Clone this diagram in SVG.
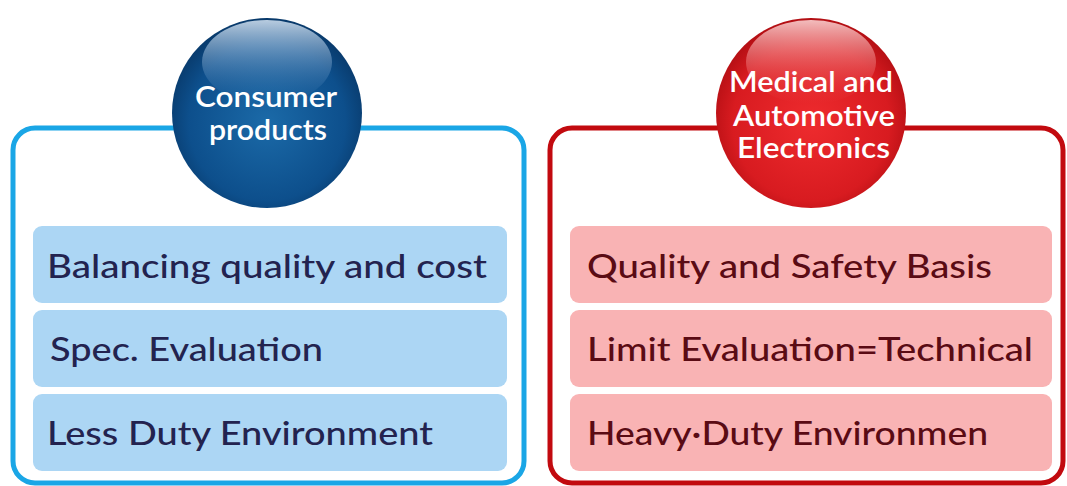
<svg xmlns="http://www.w3.org/2000/svg" width="1067" height="486" viewBox="0 0 1067 486">
<style>
.item{font-family:"Lato","Liberation Sans",sans-serif;font-size:32px;font-weight:500}
.blueT{fill:#23234f}
.redT{fill:#5a0b14}
.ball{font-family:"Lato","Liberation Sans",sans-serif;font-size:28px;fill:#ffffff;font-weight:600}
.bItem{fill:#acd6f4}
.rItem{fill:#f9b3b4}
</style>
<defs>
<radialGradient id="gBlue" cx="0.5" cy="0.55" r="0.55">
<stop offset="0" stop-color="#1b6aa8"/>
<stop offset="0.75" stop-color="#0d4f8c"/>
<stop offset="1" stop-color="#08396a"/>
</radialGradient>
<radialGradient id="gRed" cx="0.5" cy="0.55" r="0.55">
<stop offset="0" stop-color="#ee2b2e"/>
<stop offset="0.75" stop-color="#d81b20"/>
<stop offset="1" stop-color="#b20e13"/>
</radialGradient>
<linearGradient id="hlBlue" x1="0" y1="0" x2="0" y2="1">
<stop offset="0" stop-color="#c2d4e6" stop-opacity="0.95"/>
<stop offset="1" stop-color="#3d7ab5" stop-opacity="0"/>
</linearGradient>
<linearGradient id="hlRed" x1="0" y1="0" x2="0" y2="1">
<stop offset="0" stop-color="#f6c6c6" stop-opacity="0.95"/>
<stop offset="1" stop-color="#ee4a4c" stop-opacity="0"/>
</linearGradient>
</defs>
<rect width="1067" height="486" fill="#ffffff"/>

<g id="consumer">
<rect x="13" y="128" width="511" height="355" rx="22" fill="#ffffff" stroke="#1aa6e6" stroke-width="5"/>
<rect class="bItem" x="33" y="226" width="474" height="77" rx="9"/>
<rect class="bItem" x="33" y="310" width="474" height="77" rx="9"/>
<rect class="bItem" x="33" y="394" width="474" height="77" rx="9"/>
<text class="item blueT" x="47" y="278" textLength="440" lengthAdjust="spacingAndGlyphs">Balancing quality and cost</text>
<text class="item blueT" x="50" y="361" textLength="273" lengthAdjust="spacingAndGlyphs">Spec. Evaluation</text>
<text class="item blueT" x="47" y="445" textLength="386" lengthAdjust="spacingAndGlyphs">Less Duty Environment</text>
</g>
<g id="consumer-ball">
<circle cx="267" cy="113" r="95" fill="url(#gBlue)"/>
<ellipse cx="267" cy="62" rx="65" ry="42" fill="url(#hlBlue)"/>
<text class="ball" x="195" y="107" textLength="142" lengthAdjust="spacingAndGlyphs">Consumer</text>
<text class="ball" x="209" y="140" textLength="118" lengthAdjust="spacingAndGlyphs">products</text>
</g>

<g id="medical">
<rect x="550" y="128" width="513" height="355" rx="22" fill="#ffffff" stroke="#c20a0f" stroke-width="5"/>
<rect class="rItem" x="570" y="226" width="482" height="77" rx="9"/>
<rect class="rItem" x="570" y="310" width="482" height="77" rx="9"/>
<rect class="rItem" x="570" y="394" width="482" height="77" rx="9"/>
<text class="item redT" x="587" y="278" textLength="405" lengthAdjust="spacingAndGlyphs">Quality and Safety Basis</text>
<text class="item redT" x="587" y="361" textLength="446" lengthAdjust="spacingAndGlyphs">Limit Evaluation=Technical</text>
<text class="item redT" x="587" y="445" textLength="401" lengthAdjust="spacingAndGlyphs">Heavy·Duty Environmen</text>
</g>
<g id="medical-ball">
<circle cx="811" cy="113" r="95" fill="url(#gRed)"/>
<ellipse cx="811" cy="62" rx="65" ry="42" fill="url(#hlRed)"/>
<text class="ball" x="729" y="92" textLength="164" lengthAdjust="spacingAndGlyphs">Medical and</text>
<text class="ball" x="733" y="126" textLength="162" lengthAdjust="spacingAndGlyphs">Automotive</text>
<text class="ball" x="737" y="158" textLength="153" lengthAdjust="spacingAndGlyphs">Electronics</text>
</g>
</svg>
